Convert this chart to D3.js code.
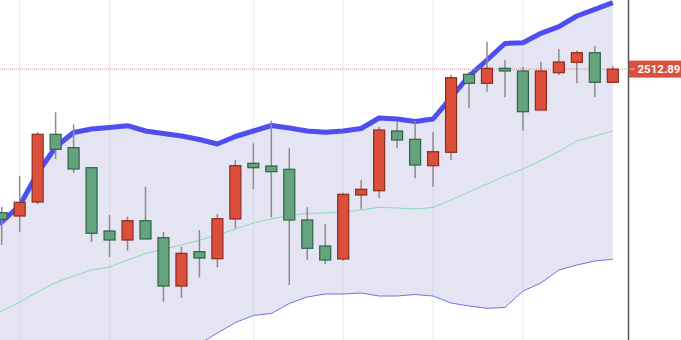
<!DOCTYPE html>
<html>
<head>
<meta charset="utf-8">
<script src="https://cdn.jsdelivr.net/npm/d3@7"></script>
<style>
  body { margin: 0; background: #fff; }
  svg { display: block; }
</style>
</head>
<body>
<div id="canvas"></div>
<script>
// DATA
const dates = [
  "2018-11-23", "2018-11-26", "2018-11-27", "2018-11-28", "2018-11-29", "2018-11-30",
  "2018-12-03", "2018-12-04", "2018-12-05", "2018-12-06", "2018-12-07", "2018-12-10",
  "2018-12-11", "2018-12-12", "2018-12-13", "2018-12-14", "2018-12-17", "2018-12-18",
  "2018-12-19", "2018-12-20", "2018-12-21", "2018-12-24", "2018-12-25", "2018-12-26",
  "2018-12-27", "2018-12-28", "2019-01-02", "2019-01-03", "2019-01-04", "2019-01-07",
  "2019-01-08", "2019-01-09", "2019-01-10", "2019-01-11", "2019-01-14", "2019-01-15"
];
const open = [
  2360, 2369.3, 2366, 2380, 2447.7, 2434.3, 2414.3, 2351, 2342, 2361.3, 2344.3, 2296,
  2330.3, 2323.3, 2363, 2418.7, 2416, 2412.7, 2362, 2336, 2323, 2387, 2391.3, 2451,
  2442.7, 2416.3, 2429.7, 2507.7, 2498.7, 2513.7, 2511, 2472, 2509.3, 2519.7, 2529.3, 2499.7
];
const close = [
  2366, 2362.7, 2379.7, 2447.7, 2432.7, 2413, 2348.7, 2342, 2361.3, 2343, 2296, 2328.7,
  2324, 2363.3, 2416.3, 2414.3, 2410.3, 2362, 2333.7, 2322, 2387.7, 2392.7, 2452, 2442,
  2417, 2430.3, 2504.3, 2498.7, 2513.7, 2511, 2470.3, 2511, 2520, 2529.3, 2499.7, 2512.89
];
const high = [
  2372, 2375, 2406, 2449.7, 2469.7, 2457.7, 2415, 2367, 2365.3, 2395.3, 2350, 2335.3,
  2352, 2368, 2422, 2438.7, 2461.3, 2433.7, 2374.7, 2358, 2389.3, 2402, 2455.3, 2460.3,
  2461.3, 2450, 2507.5, 2510, 2540.3, 2522, 2515.3, 2520.3, 2532.7, 2531.3, 2536, 2516
];
const low = [
  2350, 2337, 2350, 2378, 2423, 2409.3, 2340, 2325, 2331.3, 2343, 2280.3, 2284.3,
  2304.3, 2314.7, 2353.7, 2393, 2364.7, 2297, 2322, 2318, 2321.3, 2373, 2383.7, 2433.7,
  2403.7, 2395.3, 2422, 2473.7, 2490.3, 2484.7, 2451.3, 2472, 2507, 2498.7, 2484.7, 2499.7
];
const upper = [
  2350, 2360, 2376.5, 2409, 2435, 2449.5, 2453, 2454.5, 2456.3, 2451, 2448.5, 2446,
  2442.5, 2438, 2445.5, 2451, 2456.5, 2454, 2451, 2449.7, 2451, 2453.5, 2464, 2463,
  2460.5, 2463, 2484.4, 2506, 2522, 2538.5, 2539.3, 2548.7, 2555.3, 2566, 2572.7, 2579.3
];
const middle = [
  2263, 2271, 2280, 2290, 2299.5, 2306, 2312, 2315, 2322, 2328.5, 2333, 2337,
  2341.7, 2347, 2353, 2359, 2363, 2366.5, 2368.7, 2369, 2369.7, 2372, 2374.7, 2374,
  2373, 2374.5, 2382, 2390, 2398, 2406, 2413, 2421.5, 2430.5, 2441, 2446, 2451
];
const lower = [
  2176, 2182, 2183.5, 2171, 2164, 2162.5, 2171, 2175.5, 2188, 2206, 2217.5, 2228,
  2238, 2249, 2259.5, 2266.5, 2268.5, 2278.5, 2285, 2288, 2288, 2289, 2286, 2286,
  2287.5, 2286, 2279, 2276, 2273.7, 2274.5, 2291, 2299, 2312, 2317, 2321, 2322.7
];
const gridDates = ["2018-11-27", "2018-12-04", "2018-12-14", "2018-12-21", "2018-12-28", "2019-01-08"];
const lastPrice = 2512.89;

function drawGraph() {

  // DIMENSIONS
  const width = 681;
  const height = 340;
  const axisX = 628.5;

  const data = dates.map((d, i) => ({
    date: d, open: open[i], close: close[i], high: high[i], low: low[i],
    upper: upper[i], middle: middle[i], lower: lower[i]
  }));

  // CANVAS
  const canvas = d3.select('#canvas')
    .append('svg')
    .attr('width', width)
    .attr('height', height)
    .style('overflow', 'hidden');

  // SCALES
  const scaleX = d3.scalePoint(dates, [-16.27, 612.8]);
  const scaleY = d3.scaleLinear([2240, 2580], [342, 2]);

  // GRID
  canvas.append('g')
    .selectAll('line').data(gridDates).enter()
    .append('line')
    .attr('x1', d => scaleX(d)).attr('x2', d => scaleX(d))
    .attr('y1', 0).attr('y2', height)
    .attr('stroke', '#e3eaf2')
    .attr('stroke-width', 1);

  // BOLLINGER BAND
  const band = d3.area()
    .x(d => scaleX(d.date))
    .y0(d => scaleY(d.lower))
    .y1(d => scaleY(d.upper));

  canvas.append('path')
    .datum(data)
    .attr('d', band)
    .attr('fill', '#c9c9e8')
    .attr('fill-opacity', 0.5);

  const lineOf = key => d3.line().x(d => scaleX(d.date)).y(d => scaleY(d[key]));

  canvas.append('path').datum(data)
    .attr('d', lineOf('middle'))
    .attr('fill', 'none')
    .attr('stroke', '#86dcbc')
    .attr('stroke-width', 1);

  canvas.append('path').datum(data)
    .attr('d', lineOf('lower'))
    .attr('fill', 'none')
    .attr('stroke', '#7373e2')
    .attr('stroke-width', 1);

  canvas.append('path').datum(data)
    .attr('d', lineOf('upper'))
    .attr('fill', 'none')
    .attr('stroke', '#4f4ff0')
    .attr('stroke-width', 5)
    .attr('stroke-linejoin', 'round');

  // LAST PRICE LINE
  canvas.append('line')
    .attr('x1', 0).attr('x2', axisX)
    .attr('y1', scaleY(lastPrice)).attr('y2', scaleY(lastPrice))
    .attr('stroke', '#e58a8a')
    .attr('stroke-width', 1)
    .attr('stroke-dasharray', '1,1');

  // CANDLES
  const bodyW = 11;
  const candles = canvas.append('g')
    .selectAll('g').data(data).enter()
    .append('g');

  candles.append('line')
    .attr('x1', d => scaleX(d.date)).attr('x2', d => scaleX(d.date))
    .attr('y1', d => scaleY(d.high)).attr('y2', d => scaleY(d.low))
    .attr('stroke', '#8c8c8c')
    .attr('stroke-width', 1.5);

  candles.append('rect')
    .attr('x', d => scaleX(d.date) - bodyW / 2)
    .attr('y', d => scaleY(Math.max(d.open, d.close)))
    .attr('width', bodyW)
    .attr('height', d => Math.max(1.5, Math.abs(scaleY(d.open) - scaleY(d.close))))
    .attr('fill', d => d.close >= d.open ? '#db4f3b' : '#63a47f')
    .attr('stroke', d => d.close >= d.open ? '#8e2a1e' : '#2f6246')
    .attr('stroke-width', 1.2);

  // RIGHT AXIS
  canvas.append('line')
    .attr('x1', axisX).attr('x2', axisX)
    .attr('y1', 0).attr('y2', height)
    .attr('stroke', '#555')
    .attr('stroke-width', 1.5);

  const ly = scaleY(lastPrice);
  canvas.append('rect')
    .attr('x', axisX + 0.5)
    .attr('y', ly - 8.5)
    .attr('width', width - axisX)
    .attr('height', 17)
    .attr('fill', '#d9503f');

  canvas.append('line')
    .attr('x1', axisX + 2).attr('x2', axisX + 6)
    .attr('y1', ly).attr('y2', ly)
    .attr('stroke', '#f3c9c3')
    .attr('stroke-width', 1);

  canvas.append('text')
    .attr('x', axisX + 9)
    .attr('y', ly)
    .attr('dy', '0.35em')
    .attr('fill', '#fff')
    .style('font-family', 'Roboto, sans-serif')
    .style('font-size', '11.5px')
    .style('font-weight', 'bold')
    .text(d3.format('.2f')(lastPrice));
}

drawGraph();
</script>
</body>
</html>
